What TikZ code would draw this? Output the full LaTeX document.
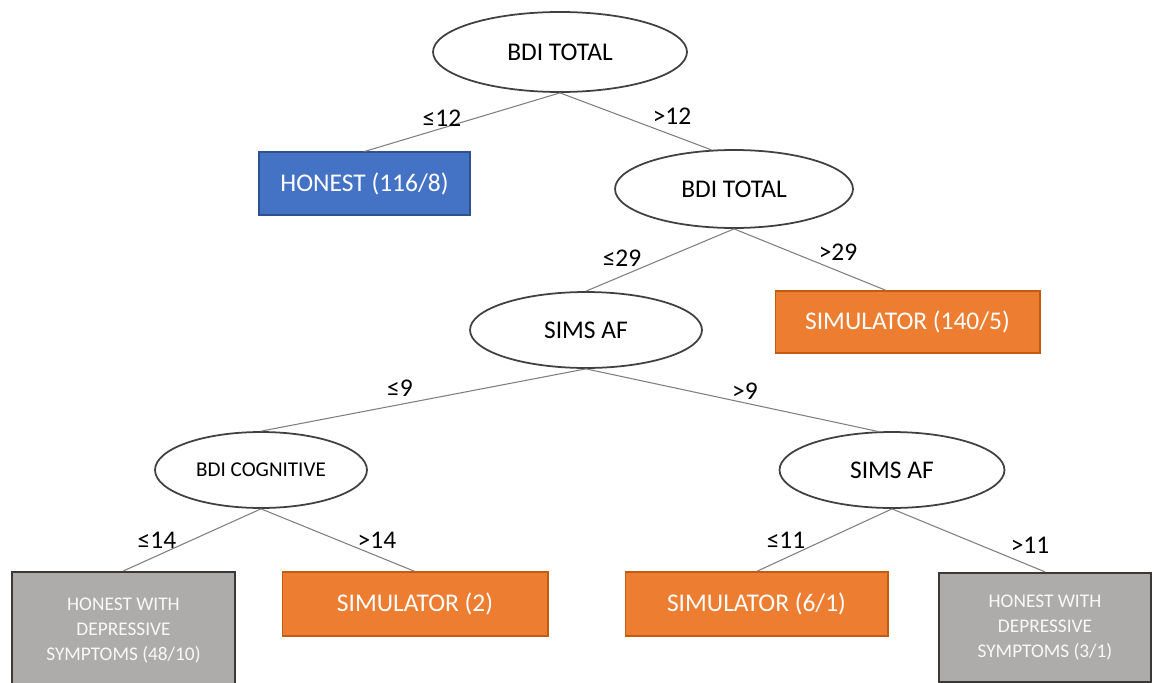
\documentclass[tikz,border=0pt]{standalone}
\usepackage{fontspec}
\setmainfont{Carlito}
\usetikzlibrary{shapes.geometric}
\definecolor{honestblue}{HTML}{4472C4}
\definecolor{honestedge}{HTML}{2F528F}
\definecolor{simorange}{HTML}{ED7D31}
\definecolor{simedge}{HTML}{C55A11}
\definecolor{symgray}{HTML}{AEABAB}
\definecolor{symedge}{HTML}{3B3838}
\definecolor{linkgray}{HTML}{7F7F7F}
\definecolor{splitedge}{HTML}{404040}

\begin{document}
\begin{tikzpicture}[x=0.02cm, y=-0.02cm,
    split/.style={ellipse, draw=splitedge, line width=1pt, fill=white, inner sep=0pt,
        font=\fontsize{14.5}{17}\selectfont},
    leaf/.style={rectangle, inner sep=0pt, align=center, text=white,
        font=\fontsize{14.5}{17}\selectfont},
    honest/.style={leaf, fill=honestblue, draw=honestedge, line width=0.6pt},
    simul/.style={leaf, fill=simorange, draw=simedge, line width=0.6pt},
    symptom/.style={leaf, fill=symgray, draw=symedge, line width=1.3pt,
        text=white!92!symgray, font=\fontsize{11}{14.2}\selectfont},
    link/.style={draw=linkgray, line width=0.6pt},
    cut/.style={font=\fontsize{14.5}{17}\selectfont}]
\useasboundingbox[fill=white] (0,0) rectangle (1153,683);

% split nodes
\node[split, minimum width=5.08cm, minimum height=1.6cm] (root) at (560,52) {BDI TOTAL};
\node[split, minimum width=4.76cm, minimum height=1.56cm] (bdi) at (734,189) {BDI TOTAL};
\node[split, minimum width=4.64cm, minimum height=1.52cm] (simsA) at (586,330) {SIMS AF};
\node[split, minimum width=4.24cm, minimum height=1.52cm,
      font=\fontsize{12}{14}\selectfont] (cog) at (261,470) {BDI COGNITIVE};
\node[split, minimum width=4.5cm, minimum height=1.52cm] (simsB) at (892,470) {SIMS AF};

% leaves
\node[honest, minimum width=4.22cm, minimum height=1.26cm] (hon) at (364.5,183.5) {HONEST (116/8)};
\node[simul, minimum width=5.3cm, minimum height=1.24cm] (sim140) at (907.5,322) {SIMULATOR (140/5)};
\node[symptom, minimum width=4.46cm, minimum height=2.36cm] (dep48) at (123.5,631)
    {HONEST WITH\\DEPRESSIVE\\SYMPTOMS (48/10)};
\node[simul, minimum width=5.32cm, minimum height=1.28cm] (sim2) at (415,604) {SIMULATOR (2)};
\node[simul, minimum width=5.26cm, minimum height=1.28cm] (sim6) at (756.5,604) {SIMULATOR (6/1)};
\node[symptom, minimum width=4.24cm, minimum height=2.18cm] (dep3) at (1045,627.5)
    {HONEST WITH\\DEPRESSIVE\\SYMPTOMS (3/1)};

% branches with their thresholds
\foreach \a/\b/\c/\t/\lx/\ly in {
    root/hon/north/≤12/442/118, root/bdi/120/>12/672/116,
    bdi/simsA/north/≤29/622/258, bdi/sim140/124/>29/838/252,
    simsA/cog/north/≤9/400/388, simsA/simsB/110/>9/745/391,
    cog/dep48/north/≤14/157/540, cog/sim2/north/>14/377/540,
    simsB/sim6/north/≤11/786/540, simsB/dep3/north/>11/1030/545}{
    \draw[link] (\a.south) -- (\b.\c);
    \node[cut] (cut-\b) at (\lx,\ly) {\t};
}
\end{tikzpicture}
\end{document}
